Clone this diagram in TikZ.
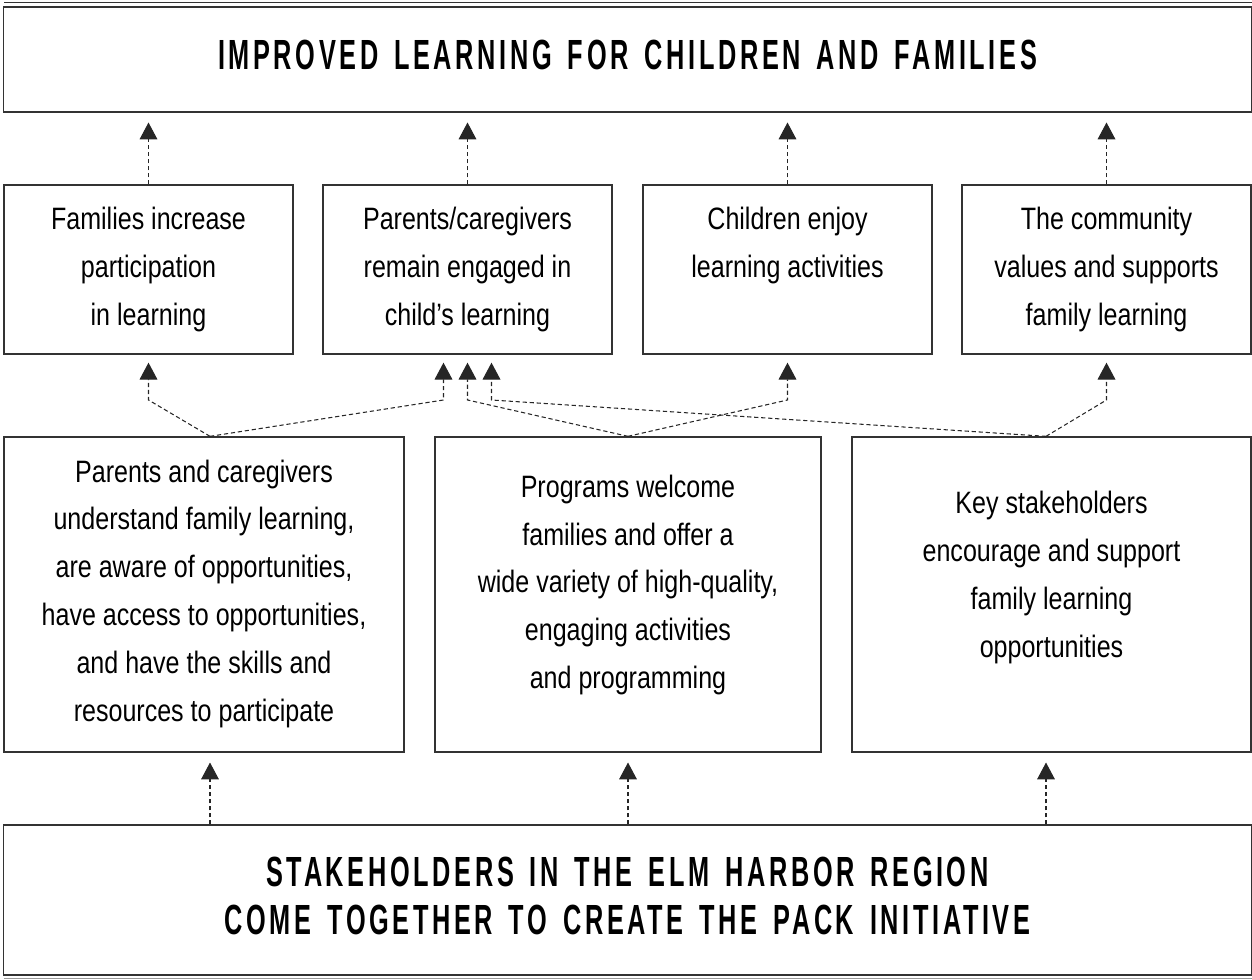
\documentclass[tikz,border=0pt]{standalone}
\usepackage{fontspec}
\setmainfont{Liberation Sans}[FakeStretch=0.81]
\newfontfamily\headfont{Liberation Sans}[FakeStretch=0.6,LetterSpace=8.6,WordSpace=1.5]
\usetikzlibrary{positioning,arrows.meta}

\begin{document}
\begin{tikzpicture}[x=0.025cm, y=-0.025cm,
  box/.style={draw=black!80, line width=0.9pt, inner sep=0pt},
  txt/.style={align=center, inner sep=0pt, font=\fontsize{22}{34}\selectfont},
  head/.style={align=center, inner sep=0pt, font=\headfont\bfseries\fontsize{30}{34}\selectfont},
  flow/.style={draw=black!85, line width=0.75pt, dash pattern=on 3pt off 2pt,
    -{Triangle[length=12pt,width=12.6pt]}, shorten >=7pt}]
\useasboundingbox (0,0) rectangle (1252,980);

% goal at the top
\draw[black!80, line width=0.9pt] (4,2.5) -- (1252,2.5);
\node[box, minimum width=31.175cm, minimum height=2.625cm] (goal) at (627.5,59.5) {};
\node[head] (goal txt) at ([yshift=0.11cm]goal.center)
  {IMPROVED LEARNING FOR CHILDREN AND FAMILIES};

% outcomes
\node[box, minimum width=7.225cm, minimum height=4.225cm] (fam) at (148.5,269.5) {};
\node[box, minimum width=7.225cm, minimum height=4.225cm] (par) at (467.5,269.5) {};
\node[box, minimum width=7.225cm, minimum height=4.225cm] (kid) at (787.5,269.5) {};
\node[box, minimum width=7.225cm, minimum height=4.225cm] (com) at (1106.5,269.5) {};
\node[txt, below=0.56cm of fam.north] (fam txt) {Families increase\\participation\\in learning};
\node[txt, below=0.56cm of par.north] (par txt) {Parents/caregivers\\remain engaged in\\child’s learning};
\node[txt, below=0.56cm of kid.north] (kid txt) {Children enjoy\\learning activities};
\node[txt, below=0.56cm of com.north] (com txt) {The community\\values and supports\\family learning};

% conditions
\node[box, minimum width=10cm, minimum height=7.875cm] (aware) at (204,594.5) {};
\node[box, minimum width=9.65cm, minimum height=7.875cm] (prog) at (628,594.5) {};
\node[box, minimum width=9.975cm, minimum height=7.875cm] (stake) at (1051.5,594.5) {};
\node[txt] (aware txt) at ([yshift=0.02cm]aware.center)
  {Parents and caregivers\\understand family learning,\\are aware of opportunities,\\have access to opportunities,\\and have the skills and\\resources to participate};
\node[txt] (prog txt) at ([yshift=0.24cm]prog.center)
  {Programs welcome\\families and offer a\\wide variety of high-quality,\\engaging activities\\and programming};
\node[txt] (stake txt) at ([yshift=0.42cm]stake.center)
  {Key stakeholders\\encourage and support\\family learning\\opportunities};

% starting point
\node[box, minimum width=31.175cm, minimum height=3.75cm] (start) at (627.5,900) {};
\node[head] (start txt) at ([yshift=0.1cm]start.center)
  {STAKEHOLDERS IN THE ELM HARBOR REGION\\COME TOGETHER TO CREATE THE PACK INITIATIVE};
\draw[black!40, line width=0.8pt] (4,978.5) -- (1252,978.5);

\coordinate (aware top) at ([xshift=0.15cm]aware.north);
\coordinate (stake top) at ([xshift=-0.1375cm]stake.north);
\coordinate (par l) at ([xshift=-0.6cm]par.south);
\coordinate (par r) at ([xshift=0.6cm]par.south);
\coordinate (kink) at (0,400);

% arrows
\draw[flow] (start.north -| aware top) -- (aware top |- aware.south);
\draw[flow] (start.north -| prog.north) -- (prog.south);
\draw[flow] (start.north -| stake top) -- (stake top |- stake.south);

\draw[flow, shorten >=5.7pt] (aware top) -- (fam.south |- kink) -- (fam.south);
\draw[flow, shorten >=5.7pt] (aware top) -- (par l |- kink) -- (par l);
\draw[flow, shorten >=5.7pt] (prog.north) -- (par.south |- kink) -- (par.south);
\draw[flow, shorten >=5.7pt] (prog.north) -- (kid.south |- kink) -- (kid.south);
\draw[flow, shorten >=5.7pt] (stake top) -- (par r |- kink) -- (par r);
\draw[flow, shorten >=5.7pt] (stake top) -- (com.south |- kink) -- (com.south);

\draw[flow] (fam.north) -- (goal.south -| fam.north);
\draw[flow] (par.north) -- (goal.south -| par.north);
\draw[flow] (kid.north) -- (goal.south -| kid.north);
\draw[flow] (com.north) -- (goal.south -| com.north);
\end{tikzpicture}
\end{document}
